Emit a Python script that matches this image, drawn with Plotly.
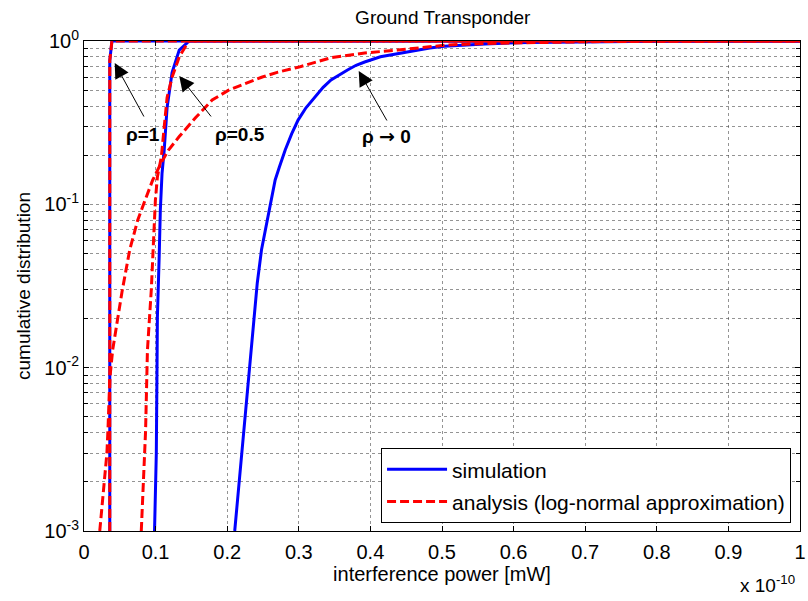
import numpy as np
import plotly.graph_objects as go

# interference power in units of 1e-10 mW, cumulative probability
sim_rho1_x = [0.036, 0.036, 0.039, 1.0]
sim_rho1_p = [0.001, 0.76, 1.0, 1.0]

ana_rho1_x = [0.036, 0.036, 0.039, 1.0]
ana_rho1_p = [0.001, 0.76, 1.0, 1.0]

sim_rho05_x = [0.0985, 0.100, 0.101, 0.102, 0.1025, 0.105, 0.1066, 0.109, 0.112,
               0.116, 0.123, 0.133, 0.143, 0.147, 1.0]
sim_rho05_p = [0.001, 0.0024, 0.003, 0.01, 0.0204, 0.048, 0.092, 0.155, 0.215,
               0.39, 0.64, 0.88, 0.97, 1.0, 1.0]

ana_rho05_x = [0.080, 0.0817, 0.0845, 0.086, 0.0886, 0.094, 0.0997, 0.1025, 0.108,
               0.112, 0.116, 0.123, 0.133, 0.143, 0.147, 1.0]
ana_rho05_p = [0.001, 0.00144, 0.0027, 0.0041, 0.0128, 0.030, 0.106, 0.147, 0.195,
               0.285, 0.45, 0.60, 0.80, 0.945, 1.0, 1.0]

sim_rho0_x = [0.2105, 0.216, 0.220, 0.223, 0.233, 0.237, 0.242, 0.248, 0.255, 0.262,
              0.267, 0.273, 0.281, 0.290, 0.299, 0.310, 0.323, 0.334, 0.345, 0.357,
              0.368, 0.380, 0.392, 0.414, 0.437, 0.461, 0.483, 0.503, 0.56, 0.62,
              0.70, 0.80, 1.0]
sim_rho0_p = [0.001, 0.00187, 0.003, 0.0042, 0.0128, 0.0204, 0.033, 0.053, 0.077, 0.106,
              0.141, 0.17, 0.215, 0.27, 0.328, 0.39, 0.454, 0.52, 0.577, 0.625,
              0.665, 0.71, 0.744, 0.80, 0.835, 0.87, 0.905, 0.93, 0.96, 0.98,
              0.99, 0.997, 1.0]

ana_rho0_x = [0.022, 0.026, 0.029, 0.032, 0.0335, 0.035, 0.036, 0.040, 0.053, 0.064,
              0.075, 0.087, 0.096, 0.108, 0.118, 0.133, 0.156, 0.179, 0.202, 0.226,
              0.248, 0.271, 0.299, 0.345, 0.392, 0.438, 0.483, 0.507, 0.56, 0.62,
              0.70, 0.80, 1.0]
ana_rho0_p = [0.001, 0.0016, 0.0022, 0.003, 0.0042, 0.006, 0.0085, 0.0128, 0.029, 0.053,
              0.08, 0.111, 0.141, 0.18, 0.215, 0.26, 0.34, 0.435, 0.50, 0.55,
              0.60, 0.645, 0.69, 0.79, 0.845, 0.88, 0.92, 0.945, 0.965, 0.98,
              0.99, 0.997, 1.0]

x_tick_vals = [0, 0.1, 0.2, 0.3, 0.4, 0.5, 0.6, 0.7, 0.8, 0.9, 1.0]
x_tick_text = ["0", "0.1", "0.2", "0.3", "0.4", "0.5", "0.6", "0.7", "0.8", "0.9", "1"]
y_tick_vals = [0.001, 0.01, 0.1, 1.0]
y_tick_text = ["10<sup>-3</sup>", "10<sup>-2</sup>", "10<sup>-1</sup>", "10<sup>0</sup>"]
y_minor_vals = [m * 10.0 ** e for e in (-3, -2, -1) for m in range(2, 10)]

ARROW_GLYPH = '<span style="font-family:DejaVu Sans">→</span>'

# curve labels: text, arrow tip (x, p), arrow tail offset (px), label position (x, p)
labels = [
    ("ρ=1", 0.0429, 0.733, 30, 55, 0.0817, 0.269),
    ("ρ=0.5", 0.133, 0.611, 33, 42, 0.2175, 0.269),
    ("ρ " + ARROW_GLYPH + " 0", 0.3837, 0.655, 29, 51, 0.4224, 0.262),
]

FONT = "Liberation Sans, Arial, sans-serif"
BLUE = "rgb(0,0,255)"
RED = "rgb(255,0,0)"
DASH = "9px,4px"

fig = go.Figure()

sims = [(sim_rho1_x, sim_rho1_p), (sim_rho05_x, sim_rho05_p), (sim_rho0_x, sim_rho0_p)]
anas = [(ana_rho1_x, ana_rho1_p), (ana_rho05_x, ana_rho05_p), (ana_rho0_x, ana_rho0_p)]

for i, (x, p) in enumerate(sims):
    fig.add_trace(go.Scatter(x=x, y=p, mode="lines", name="simulation",
                             legendgroup="sim", showlegend=(i == 0),
                             line=dict(color=BLUE, width=3)))
for i, (x, p) in enumerate(anas):
    fig.add_trace(go.Scatter(x=x, y=p, mode="lines",
                             name="analysis (log-normal approximation)",
                             legendgroup="ana", showlegend=(i == 0),
                             line=dict(color=RED, width=3, dash=DASH)))

grid = dict(gridcolor="rgba(60,60,60,0.55)", gridwidth=1, griddash="dot")

fig.update_xaxes(range=[0, 1], tickmode="array", tickvals=x_tick_vals,
                 ticktext=x_tick_text, showline=True, linecolor="black",
                 linewidth=1, mirror="ticks", ticks="inside", ticklen=5,
                 tickcolor="black", zeroline=False, showgrid=True, **grid,
                 ticklabelstandoff=3, ticklabeloverflow="allow",
                 tickfont=dict(size=20, color="black", family=FONT),
                 title=dict(text="interference power [mW]", standoff=0,
                            font=dict(size=20, color="black", family=FONT)))

fig.update_yaxes(type="log", range=[-3, 0], tickmode="array", tickvals=y_tick_vals,
                 ticktext=y_tick_text, showline=True, linecolor="black", linewidth=1,
                 mirror="ticks", ticks="inside", ticklen=5, tickcolor="black",
                 zeroline=False, showgrid=True, **grid,
                 minor=dict(tickmode="array", tickvals=y_minor_vals, ticks="inside",
                            ticklen=4, tickcolor="black", showgrid=True, **grid),
                 tickfont=dict(size=20, color="black", family=FONT),
                 title=dict(text="cumulative distribution", standoff=8,
                            font=dict(size=19, color="black", family=FONT)))

annotations = []
for text, tx, tp, ax, ay, lx, lp in labels:
    annotations.append(dict(x=tx, y=np.log10(tp), xref="x", yref="y", text="",
                            showarrow=True, ax=ax, ay=ay, arrowhead=2, arrowsize=3,
                            arrowwidth=1, arrowcolor="black", standoff=0))
    annotations.append(dict(x=lx, y=np.log10(lp), xref="x", yref="y",
                            text="<b>" + text + "</b>", showarrow=False,
                            font=dict(size=19, color="black", family=FONT),
                            xanchor="center", yanchor="middle"))
annotations.append(dict(x=(803 - 84) / 722, y=(531 - 584) / 490, xref="paper",
                        yref="paper", text="x 10<sup>-10</sup>", showarrow=False,
                        font=dict(size=19, color="black", family=FONT),
                        xanchor="right", yanchor="middle"))

fig.update_layout(
    width=808, height=601,
    margin=dict(l=84, r=2, t=41, b=70),
    paper_bgcolor="white", plot_bgcolor="white",
    font=dict(family=FONT, size=19, color="black"),
    title=dict(text="Ground Transponder", x=0.548, xanchor="center",
               y=1 - 17 / 601, yanchor="middle",
               font=dict(size=19, color="black", family=FONT)),
    legend=dict(x=0.9875, y=0.016, xanchor="right", yanchor="bottom",
                bgcolor="white", bordercolor="black", borderwidth=1,
                font=dict(size=21, color="black", family=FONT),
                itemwidth=60, tracegroupgap=2),
    annotations=annotations,
)

fig.write_html("out.html")
